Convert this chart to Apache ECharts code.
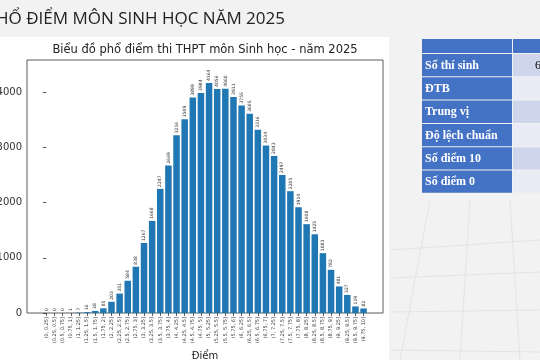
<!DOCTYPE html>
<html>
<head>
<meta charset="utf-8">
<script src="https://cdn.jsdelivr.net/npm/echarts@6/dist/echarts.min.js"></script>
<style>
html,body{margin:0;padding:0;background:#f2f2f2;}
#chart{width:540px;height:360px;}
</style>
</head>
<body>
<div id="chart"></div>
<script>
const categories = ["(0, 0.25]","(0.25, 0.5]","(0.5, 0.75]","(0.75, 1]","(1, 1.25]","(1.25, 1.5]","(1.5, 1.75]","(1.75, 2]","(2, 2.25]","(2.25, 2.5]","(2.5, 2.75]","(2.75, 3]","(3, 3.25]","(3.25, 3.5]","(3.5, 3.75]","(3.75, 4]","(4, 4.25]","(4.25, 4.5]","(4.5, 4.75]","(4.75, 5]","(5, 5.25]","(5.25, 5.5]","(5.5, 5.75]","(5.75, 6]","(6, 6.25]","(6.25, 6.5]","(6.5, 6.75]","(6.75, 7]","(7, 7.25]","(7.25, 7.5]","(7.5, 7.75]","(7.75, 8]","(8, 8.25]","(8.25, 8.5]","(8.5, 8.75]","(8.75, 9]","(9, 9.25]","(9.25, 9.5]","(9.5, 9.75]","(9.75, 10]"];
const counts = [0,0,0,1,7,16,38,85,203,351,584,838,1267,1668,2247,2669,3216,3509,3899,3984,4164,4056,4060,3911,3755,3605,3316,3034,2843,2497,2205,1914,1608,1425,1083,782,481,327,119,82];
const yTicks = [0,1000,2000,3000,4000];
const tableRows = ["Số thí sinh","ĐTB","Trung vị","Độ lệch chuẩn","Số điểm 10","Số điểm 0"];
const tableValues = ["69849","","","","",""];

const chart = echarts.init(document.getElementById('chart'), null, {renderer:'canvas'});
const idx = categories.map((_, i) => i);
const gridL = 27, gridT = 60, gridW = 356, gridH = 253;
const xMin = -2.39, xMax = categories.length - 1 + 2.39;
const unitPx = gridW / (xMax - xMin);

const graphics = [];
graphics.push({type:'rect', shape:{x:0,y:37,width:389,height:330}, style:{fill:'#ffffff'}, z:-10, silent:true});
const deco = [[390,250,540,240],[390,278,540,272],[390,312,540,310],[390,350,540,352],[430,200,400,360],[470,200,460,360],[510,200,520,360]];
deco.forEach(d => graphics.push({type:'line', shape:{x1:d[0],y1:d[1],x2:d[2],y2:d[3]}, style:{stroke:'#e3e3e3',lineWidth:1}, z:-9, silent:true}));
graphics.push({type:'text', x:285, y:19, style:{text:'PHỔ ĐIỂM MÔN SINH HỌC NĂM 2025', font:'17px "Open Sans"', fill:'#222', align:'right', verticalAlign:'middle'}});
graphics.push({type:'text', x:205, y:50, style:{text:'Biểu đồ phổ điểm thi THPT môn Sinh học - năm 2025', font:'11.5px "DejaVu Sans"', fill:'#222', align:'center', verticalAlign:'middle'}});
const tX = 422, tY = 39, c1W = 90, hdrH = 14, rowH = 23.3;
graphics.push({type:'rect', shape:{x:tX,y:tY,width:c1W,height:hdrH}, style:{fill:'#4472c4'}});
graphics.push({type:'rect', shape:{x:tX+c1W+1,y:tY,width:200,height:hdrH}, style:{fill:'#4472c4'}});
tableRows.forEach((r, i) => {
  const y = tY + hdrH + 1 + i * rowH;
  graphics.push({type:'rect', shape:{x:tX,y:y,width:c1W,height:rowH-1}, style:{fill:'#4472c4'}});
  graphics.push({type:'rect', shape:{x:tX+c1W+1,y:y,width:200,height:rowH-1}, style:{fill: i % 2 === 0 ? '#cfd5ea' : '#e9ebf5'}});
  graphics.push({type:'text', x:tX+3, y:y+rowH/2, style:{text:r, font:'bold 12px "Liberation Serif"', fill:'#ffffff', verticalAlign:'middle'}});
  if (tableValues[i]) graphics.push({type:'text', x:535, y:y+rowH/2, style:{text:tableValues[i], font:'12px "Liberation Serif"', fill:'#000', verticalAlign:'middle'}});
});

chart.setOption({
  animation:false,
  backgroundColor:'transparent',
  grid:{left:gridL, top:gridT, width:gridW, height:gridH, show:true, borderColor:'#333', borderWidth:0.8, backgroundColor:'#fff', containLabel:false, outerBoundsMode:'none'},
  xAxis:{
    type:'value', min:xMin, max:xMax,
    name:'Điểm', nameLocation:'middle', nameGap:38,
    nameTextStyle:{fontFamily:'DejaVu Sans', fontSize:10, color:'#222'},
    axisLine:{show:false},
    splitLine:{show:false},
    axisTick:{show:true, customValues:idx, length:3, lineStyle:{color:'#333', width:0.8}},
    axisLabel:{show:true, customValues:idx, rotate:90, fontSize:5, fontFamily:'DejaVu Sans', color:'#333', margin:4,
      formatter: v => categories[Math.round(v)] || ''}
  },
  yAxis:{
    type:'value', min:0, max:4580,
    axisLine:{show:false},
    splitLine:{show:false},
    axisTick:{show:true, customValues:yTicks, length:3.5, lineStyle:{color:'#333', width:0.8}},
    axisLabel:{show:true, customValues:yTicks, fontSize:10, fontFamily:'DejaVu Sans', color:'#333', margin:5,
      formatter: v => String(v)}
  },
  series:[{
    type:'bar',
    data: counts.map((v, i) => [i, v]),
    barWidth: 0.8 * unitPx,
    itemStyle:{color:'#1f77b4'},
    label:{show:true, position:'top', rotate:90, align:'left', verticalAlign:'middle', distance:2,
      fontSize:4.5, fontFamily:'DejaVu Sans', color:'#333', formatter: p => String(p.value[1])}
  }],
  graphic: graphics
});
</script>
</body>
</html>
